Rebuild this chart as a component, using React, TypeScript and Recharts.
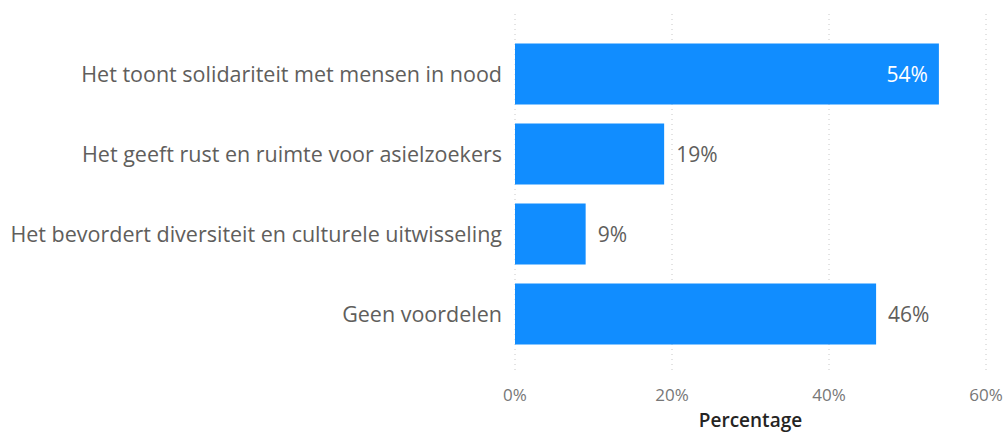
import { BarChart, Bar, XAxis, YAxis, CartesianGrid, LabelList } from "recharts";

const categories = [
    "Het toont solidariteit met mensen in nood",
    "Het geeft rust en ruimte voor asielzoekers",
    "Het bevordert diversiteit en culturele uitwisseling",
    "Geen voordelen",
];
const percentages = [54, 19, 9, 46];
const xTicks = [0, 20, 40, 60];

const data = categories.map((name, i) => ({ name, value: percentages[i] }));

const FONT = "'Open Sans', 'Noto Sans', sans-serif";

const renderValueLabel = (props: any) => {
    const { x, y, width, height, value } = props;
    const inside = value > 50;
    return (
        <text
            x={inside ? x + width - 11 : x + width + 12}
            y={y + height / 2}
            textAnchor={inside ? "end" : "start"}
            dominantBaseline="central"
            fill={inside ? "#ffffff" : "#605E5C"}
            fontSize={21}
            fontFamily={FONT}
        >
            {value}%
        </text>
    );
};

export default function App() {
    return (
        <div style={{ width: 1005, height: 432, background: "#fff" }}>
            <style>{`body{margin:0}`}</style>
            <BarChart
                layout="vertical"
                width={1005}
                height={432}
                data={data}
                margin={{ top: 14, right: 19, bottom: 0, left: 0 }}
                barCategoryGap="12%"
            >
                <CartesianGrid horizontal={false} strokeDasharray="1 4" stroke="#c8c8c8" />
                <XAxis
                    type="number"
                    domain={[0, 60]}
                    ticks={xTicks}
                    tickFormatter={(v) => `${v}%`}
                    axisLine={false}
                    tickLine={false}
                    tickMargin={9}
                    height={58}
                    tick={{ fill: "#777", fontSize: 17, fontFamily: FONT }}
                    label={{
                        value: "Percentage",
                        position: "insideBottom",
                        offset: 5,
                        fill: "#252423",
                        fontSize: 19,
                        fontFamily: FONT,
                        fontWeight: 600,
                    }}
                />
                <YAxis
                    type="category"
                    dataKey="name"
                    width={515}
                    axisLine={false}
                    tickLine={false}
                    tickMargin={7}
                    padding={{ top: 20, bottom: 20 }}
                    tick={{ fill: "#605E5C", fontSize: 21.5, fontFamily: FONT }}
                />
                <Bar dataKey="value" fill="#118DFF" isAnimationActive={false}>
                    <LabelList dataKey="value" content={renderValueLabel} />
                </Bar>
            </BarChart>
        </div>
    );
}
